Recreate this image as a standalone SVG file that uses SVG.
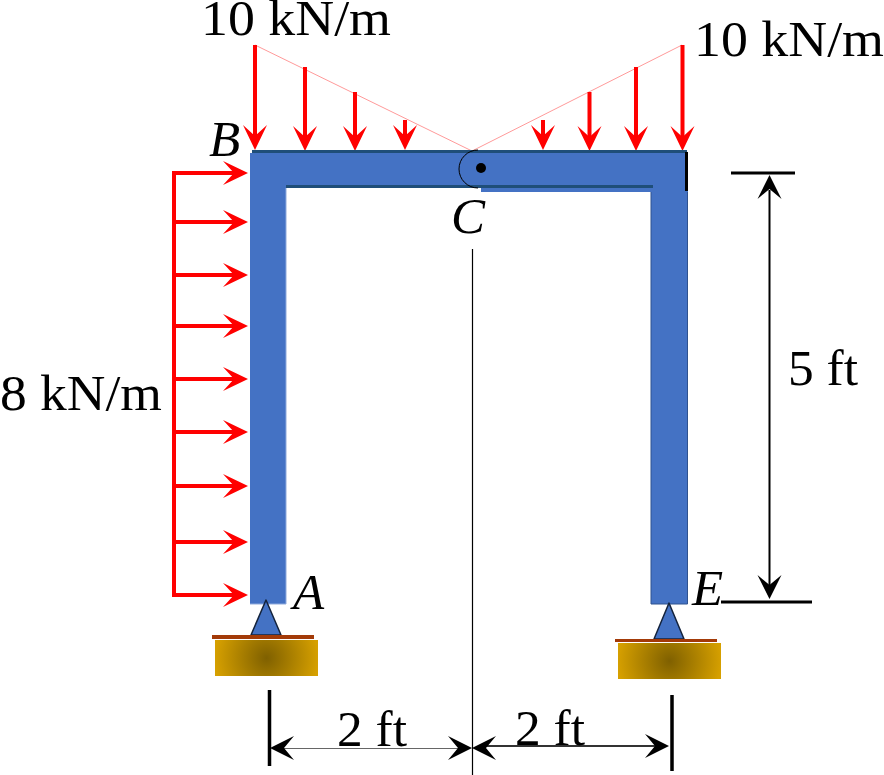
<svg xmlns="http://www.w3.org/2000/svg" width="884" height="775" viewBox="0 0 884 775">
<style>
text{font-family:"Liberation Serif","DejaVu Serif",serif;fill:#000}
.t{font-size:50px}
.i{font-size:51px;font-style:italic}
.frame{fill:#4472c4}
.edge{fill:#1f4e79}
.pin{fill:#4472c4;stroke:#14233c;stroke-width:1.5;stroke-linejoin:round}
.plate{fill:#a33a08}
.load{stroke:#f00;stroke-width:4;fill:none}
.thin{stroke:#ff9a9a;stroke-width:1;fill:none}
.k{stroke:#000;fill:none}
</style>
<defs>
<radialGradient id="ga" cx="266.500" cy="658" r="52" gradientUnits="userSpaceOnUse"><stop offset="0" stop-color="#7f6000"/><stop offset="1" stop-color="#d6a000"/></radialGradient>
<radialGradient id="ge" cx="669.500" cy="661" r="52" gradientUnits="userSpaceOnUse"><stop offset="0" stop-color="#7f6000"/><stop offset="1" stop-color="#d6a000"/></radialGradient>
<path id="hd" d="M0 0L-12 -25L0 -14L12 -25Z" fill="#f00"/>
<path id="hr" d="M0 0L-25 -12L-14 0L-25 12Z" fill="#f00"/>
<path id="hk" d="M0 0L-24 -12L-14 0L-24 12Z" fill="#000"/>
</defs>
<g id="connectors">
<path class="thin" d="M255 45L472 151L682 45"/>
<path class="load" d="M255 45V140M305 67V140M355 92V140M405 120V140M543 120V140M589.500 92V140M636 67V140M682.500 45V140"/>
<use href="#hd" x="255" y="150"/><use href="#hd" x="305" y="151"/><use href="#hd" x="355" y="151"/><use href="#hd" x="405" y="150"/>
<use href="#hd" x="543" y="150"/><use href="#hd" x="589.500" y="151"/><use href="#hd" x="636" y="151"/><use href="#hd" x="682.500" y="151"/>
<path class="load" d="M174 171V597M172 173H236M172 222H236M172 275H236M172 326H236M172 379H236M172 432H236M172 486H236M172 542H236M172 595H236"/>
<use href="#hr" x="248" y="173"/><use href="#hr" x="248" y="222"/><use href="#hr" x="248" y="275"/><use href="#hr" x="248" y="326"/><use href="#hr" x="248" y="379"/><use href="#hr" x="248" y="432"/><use href="#hr" x="248" y="486"/><use href="#hr" x="248" y="542"/><use href="#hr" x="248" y="595"/>
<path class="k" stroke-width="1.200" d="M472.500 249V775"/>
<path class="k" stroke-width="3" d="M731 173H795M721 602H812"/>
<path class="k" stroke-width="3.500" d="M269.500 690V766M672 695V771"/>
<path class="k" stroke-width="2" d="M769.500 190V585"/>
<use href="#hk" transform="translate(769.500 175) rotate(-90)"/>
<use href="#hk" transform="translate(769.500 599) rotate(90)"/>
<path stroke="#666" stroke-width="1" fill="none" d="M280 748.500H460"/>
<path stroke="#333" stroke-width="2" fill="none" d="M485 746H660"/>
<use href="#hk" transform="translate(270 748) rotate(180)"/>
<use href="#hk" x="472" y="748"/>
<use href="#hk" transform="translate(472 748) rotate(180)"/>
<use href="#hk" x="669" y="746"/>
</g>
<g id="node-frame-left">
<path class="frame" d="M250 153H481V187H286V604H250Z"/>
<rect class="edge" x="252" y="150" width="229" height="3"/>
<rect class="edge" x="286" y="185" width="195" height="3"/>
<path d="M250 604H286V188" fill="none" stroke="#8faadc" stroke-width="1"/>
</g>
<g id="node-frame-right">
<path class="frame" d="M481 153H688V604H651V192H481Z"/>
<rect class="edge" x="481" y="150" width="206" height="3"/>
<rect class="edge" x="481" y="185" width="172" height="3"/>
<path d="M651 192V604H687.500V192" fill="none" stroke="#2f528f" stroke-width="1"/>
<path d="M686.500 152V191" stroke="#000" stroke-width="3" fill="none"/>
</g>
<g id="node-hinge-C">
<path d="M478 150A18.500 18.500 0 0 0 478 188" fill="none" stroke="#000" stroke-width="1"/>
<circle cx="481" cy="168" r="5" fill="#000"/>
</g>
<g id="node-support-A">
<path class="pin" d="M266 600L251 635H281Z"/>
<rect class="plate" x="212" y="635" width="102" height="4"/>
<rect x="215" y="640" width="103" height="36" fill="url(#ga)"/>
</g>
<g id="node-support-E">
<path class="pin" d="M669 603L654 639H684Z"/>
<rect class="plate" x="615" y="639" width="102" height="3"/>
<rect x="618" y="643" width="103" height="36" fill="url(#ge)"/>
</g>
<g id="labels">
<text class="t" x="201" y="35" textLength="190" lengthAdjust="spacingAndGlyphs">10 kN/m</text>
<text class="t" x="694" y="56" textLength="190" lengthAdjust="spacingAndGlyphs">10 kN/m</text>
<text class="t" x="0" y="410" textLength="162" lengthAdjust="spacingAndGlyphs">8 kN/m</text>
<text class="t" x="788" y="385" textLength="70" lengthAdjust="spacingAndGlyphs">5 ft</text>
<text class="t" x="337" y="746" textLength="70" lengthAdjust="spacingAndGlyphs">2 ft</text>
<text class="t" x="515" y="745" textLength="70" lengthAdjust="spacingAndGlyphs">2 ft</text>
<text class="i" x="209" y="156">B</text>
<text class="i" x="451" y="233">C</text>
<text class="i" x="293" y="609">A</text>
<text class="i" x="692" y="605">E</text>
</g>
</svg>
